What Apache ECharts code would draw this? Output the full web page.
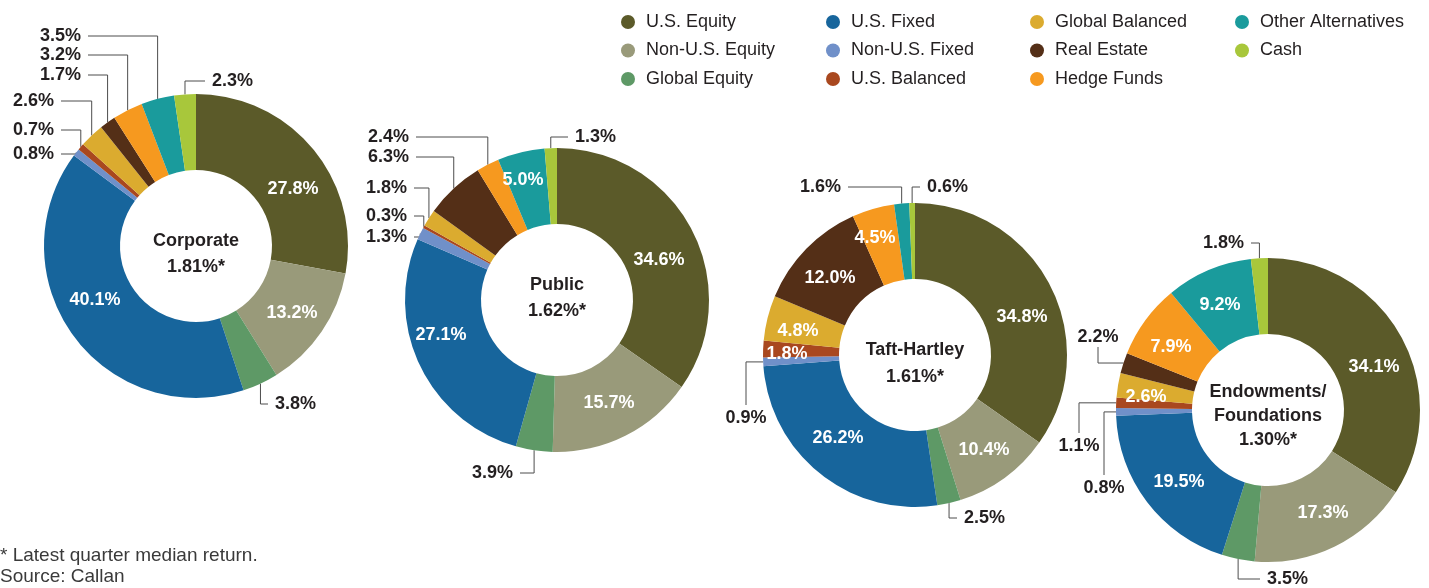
<!DOCTYPE html>
<html>
<head>
<meta charset="utf-8">
<script src="https://cdn.jsdelivr.net/npm/echarts@6/dist/echarts.min.js"></script>
<style>
html,body{margin:0;padding:0;background:#fff;}
#chart{width:1429px;height:588px;}
</style>
</head>
<body>
<div id="chart"></div>
<script>
// ---------------- DATA ----------------
const categories = ['U.S. Equity','Non-U.S. Equity','Global Equity','U.S. Fixed','Non-U.S. Fixed','U.S. Balanced','Global Balanced','Real Estate','Hedge Funds','Other Alternatives','Cash'];
const planTypes = ['Corporate','Public','Taft-Hartley','Endowments/\nFoundations'];
const medianReturns = ['1.81%*','1.62%*','1.61%*','1.30%*'];
const corporateValues  = [27.8,13.2,3.8,40.1,0.8,0.7,2.6,1.7,3.2,3.5,2.3];
const publicValues     = [34.6,15.7,3.9,27.1,1.3,0.3,1.8,6.3,2.4,5.0,1.3];
const taftHartleyValues= [34.8,10.4,2.5,26.2,0.9,1.8,4.8,12.0,4.5,1.6,0.6];
const endowmentValues  = [34.1,17.3,3.5,19.5,0.8,1.1,2.6,2.2,7.9,9.2,1.8];
const legendColumns = [[0,1,2],[3,4,5],[6,7,8],[9,10]];
const footnotes = ['* Latest quarter median return.','Source: Callan'];

// ---------------- STYLE / LAYOUT ----------------
const colors = ['#5b5a29','#999a7a','#5e9966','#17659c','#7090c9','#a9481f','#dbab2f','#542f17','#f6991f','#1a9b9c','#a8c73b'];
const FONT = "'Liberation Sans', Arial, Helvetica, sans-serif";
const TEXT_DARK = '#231f20';
const LINE_COLOR = '#4d4d4d';
const centers = [[196,246],[557,300],[915,355],[1268,410]];
const centerTextOffset = [8,-2,9,6];
const centerLineHeight = [26,26,27,24];
const R_OUT = 152, R_IN = 76, GAP = 7;
const legendLefts = [616,821,1025,1230];

// label placement, offsets relative to each donut centre
// in: inside label; v: vertical leader then horizontal; h: horizontal leader then vertical
const placements = [
  [ {t:'in',dx:97,dy:-57},{t:'in',dx:96,dy:67},{t:'v',dy:158,ex:72},{t:'in',dx:-101,dy:54},
    {t:'v',dy:-92,ex:-135},{t:'v',dy:-116,ex:-135},{t:'v',dy:-145,ex:-135},{t:'v',dy:-171,ex:-108},
    {t:'v',dy:-191,ex:-108},{t:'v',dy:-210,ex:-108},{t:'v',dy:-165,ex:9} ],
  [ {t:'in',dx:102,dy:-40},{t:'in',dx:52,dy:103},{t:'v',dy:173,ex:-37},{t:'in',dx:-116,dy:35},
    {t:'v',dy:-63,ex:-143},{t:'v',dy:-84,ex:-143},{t:'v',dy:-112,ex:-143},{t:'v',dy:-143,ex:-141},
    {t:'v',dy:-163,ex:-141},{t:'in',dx:-34,dy:-120},{t:'v',dy:-163,ex:11} ],
  [ {t:'in',dx:107,dy:-38},{t:'in',dx:69,dy:95},{t:'v',dy:163,ex:42},{t:'in',dx:-77,dy:83},
    {t:'h',ex:-169,dy:50},{t:'in',dx:-128,dy:-1},{t:'in',dx:-117,dy:-24},{t:'in',dx:-85,dy:-77},
    {t:'in',dx:-40,dy:-117},{t:'v',dy:-168,ex:-67},{t:'v',dy:-168,ex:5} ],
  [ {t:'in',dx:106,dy:-43},{t:'in',dx:55,dy:103},{t:'v',dy:169,ex:-8},{t:'in',dx:-89,dy:72},
    {t:'h',ex:-164,dy:65},{t:'h',ex:-189,dy:23},{t:'in',dx:-122,dy:-13},{t:'h',ex:-170,dy:-63},
    {t:'in',dx:-97,dy:-63},{t:'in',dx:-48,dy:-105},{t:'v',dy:-167,ex:-17} ]
];

const seriesValues = [corporateValues, publicValues, taftHartleyValues, endowmentValues];

function makeLabelLayout(k) {
  const cx = centers[k][0], cy = centers[k][1];
  const place = placements[k];
  const vals = seriesValues[k];
  const total = vals.reduce((a,b)=>a+b,0);
  return function (params) {
    const i = params.dataIndex;
    const p = place[i];
    if (p.t === 'in') {
      return {x: cx + p.dx, y: cy + p.dy, align: 'center', verticalAlign: 'middle'};
    }
    let ax, ay;
    if (params.labelLinePoints && params.labelLinePoints.length) {
      ax = params.labelLinePoints[0][0]; ay = params.labelLinePoints[0][1];
    } else {
      let before = 0; for (let j = 0; j < i; j++) before += vals[j];
      const a = (before + vals[i] / 2) / total * Math.PI * 2;
      ax = cx + R_OUT * Math.sin(a); ay = cy - R_OUT * Math.cos(a);
    }
    if (p.t === 'v') {
      const ry = cy + p.dy, ex = cx + p.ex, left = ex < ax;
      return {x: ex + (left ? -GAP : GAP), y: ry, align: left ? 'right' : 'left', verticalAlign: 'middle',
        labelLinePoints: [[ax, ay], [ax, ry], [ex, ry]]};
    }
    const ex = cx + p.ex, ry = cy + p.dy, below = ry > ay;
    return {x: ex, y: ry + (below ? 4 : -1), align: 'center', verticalAlign: below ? 'top' : 'bottom',
      labelLinePoints: [[ax, ay], [ex, ay], [ex, ry]]};
  };
}

const series = seriesValues.map((vals, k) => ({
  type: 'pie',
  silent: true,
  animation: false,
  center: centers[k],
  radius: [R_IN, R_OUT],
  startAngle: 90,
  clockwise: true,
  avoidLabelOverlap: false,
  itemStyle: {borderWidth: 0},
  label: {
    show: true, fontFamily: FONT, fontSize: 18, fontWeight: 'bold',
    formatter: (p) => p.value.toFixed(1) + '%'
  },
  labelLine: {length: 0, length2: 0, smooth: false, lineStyle: {color: LINE_COLOR, width: 1}},
  labelLayout: makeLabelLayout(k),
  data: vals.map((v, i) => {
    const inside = placements[k][i].t === 'in';
    return {
      name: categories[i], value: v,
      itemStyle: {color: colors[i]},
      label: {position: inside ? 'inside' : 'outside', color: inside ? '#ffffff' : TEXT_DARK},
      labelLine: {show: !inside}
    };
  })
}));

const legends = legendColumns.map((col, k) => ({
  data: col.map(i => categories[i]),
  orient: 'vertical',
  left: legendLefts[k],
  top: 8,
  icon: 'circle',
  itemWidth: 26,
  itemHeight: 14,
  itemGap: 10.5,
  selectedMode: false,
  textStyle: {fontFamily: FONT, fontSize: 18, color: TEXT_DARK}
}));

const graphics = planTypes.map((name, k) => ({
  type: 'text',
  x: centers[k][0],
  y: centers[k][1] + centerTextOffset[k],
  silent: true,
  style: {
    text: name + '\n' + medianReturns[k],
    align: 'center', verticalAlign: 'middle',
    fontFamily: FONT, fontSize: 18, fontWeight: 'bold',
    lineHeight: centerLineHeight[k], fill: TEXT_DARK
  }
}));
graphics.push({
  type: 'text', left: 0, top: 545, silent: true,
  style: {text: footnotes.join('\n'), fontFamily: FONT, fontSize: 19, lineHeight: 21, fill: '#3a3a3a'}
});

const chart = echarts.init(document.getElementById('chart'), null, {renderer: 'canvas'});
chart.setOption({
  backgroundColor: '#ffffff',
  animation: false,
  color: colors,
  legend: legends,
  series: series,
  graphic: graphics
});
</script>
</body>
</html>
